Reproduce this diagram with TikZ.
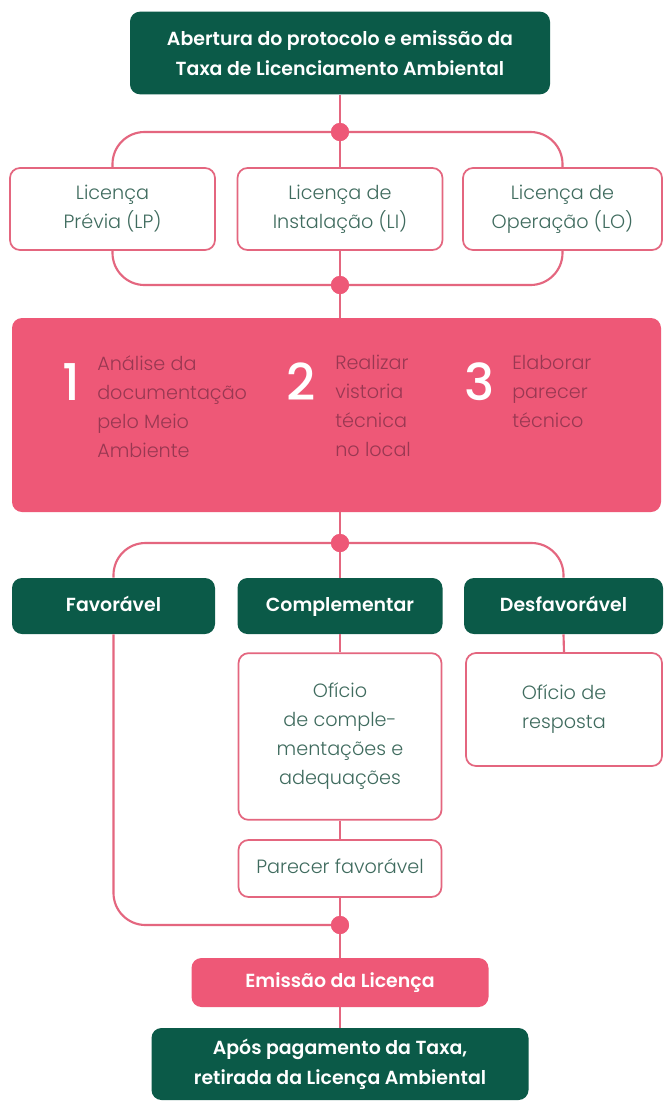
\documentclass[tikz,border=0pt]{standalone}
\usepackage{fontspec}
\setmainfont{Poppins}
\newfontfamily\plight{Poppins Light}
\newfontfamily\psemi{Poppins SemiBold}
\newfontfamily\pmed{Poppins Medium}
\definecolor{dgreen}{HTML}{0B5A48}
\definecolor{rose}{HTML}{EE5877}
\definecolor{lrose}{HTML}{E4667F}
\definecolor{steptxt}{HTML}{993852}
\definecolor{lictxt}{HTML}{3F6B5E}
\begin{document}
\begin{tikzpicture}[x=0.75pt,y=-0.75pt,
  conn/.style={draw=lrose,line width=1.6pt},
  dot/.style={circle,fill=rose,minimum size=13.5pt,inner sep=0pt},
  greenbox/.style={fill=dgreen,rounded corners=7.5pt,text=white,align=center,inner sep=0pt,font=\psemi\fontsize{14.2}{22.5}\selectfont},
  whitebox/.style={draw=lrose,line width=1.3pt,fill=white,rounded corners=7.5pt,text=lictxt,align=center,inner sep=0pt,font=\plight\fontsize{14.4}{21.75}\selectfont},
  rosebox/.style={fill=rose,rounded corners=7.5pt,text=white,align=center,inner sep=0pt,font=\psemi\fontsize{14.2}{21.75}\selectfont},
  oneline/.style={text height=10.5pt,text depth=3pt},
  num/.style={text=white,font=\pmed\fontsize{38}{38}\selectfont,inner sep=0pt},
  steptext/.style={text=steptxt,align=left,anchor=north west,inner sep=0pt,font=\plight\fontsize{14.4}{21.75}\selectfont}
]
\useasboundingbox (0,0) rectangle (664,1108);
\fill[white] (0,0) rectangle (664,1108);
% top
\node[greenbox,minimum width=315pt,minimum height=62pt] (top) at (340,53)
  {Abertura do protocolo e emissão da\\Taxa de Licenciamento Ambiental};
% licences
\node[whitebox,minimum width=153.75pt,minimum height=61.5pt] (lp) at (112.5,209) {Licença\\Prévia (LP)};
\node[whitebox,minimum width=153.75pt,minimum height=61.5pt] (li) at (340,209) {Licença de\\Instalação (LI)};
\node[whitebox,minimum width=149.25pt,minimum height=61.5pt] (lo) at (562.5,209) {Licença de\\Operação (LO)};
\node[dot] (c1) at (340,132) {};
\node[dot] (c2) at (340,285) {};
% big pink box
\node[fill=rose,rounded corners=7.5pt,minimum width=486.75pt,minimum height=145.5pt,inner sep=0pt] (big) at (336.5,415) {};
\node[num] (n1) at (71,382) {1};
\node[steptext] (t1) at (97,355) {Análise da\\documentação\\pelo Meio\\Ambiente};
\node[num] (n2) at (301,382) {2};
\node[steptext] (t2) at (335,355) {Realizar\\vistoria\\técnica\\no local};
\node[num] (n3) at (480,382) {3};
\node[steptext] (t3) at (512,355) {Elaborar\\parecer\\técnico};
\node[dot] (c3) at (340,543) {};
% decisions
\node[greenbox,oneline,minimum width=152.25pt,minimum height=42pt] (fav) at (113.5,606) {Favorável};
\node[greenbox,oneline,minimum width=153.75pt,minimum height=42pt] (comp) at (340,606) {Complementar};
\node[greenbox,oneline,minimum width=149.25pt,minimum height=42pt] (desf) at (563.5,606) {Desfavorável};
\node[whitebox,minimum width=152.25pt,minimum height=125pt] (of) at (340,736.5) {Ofício\\de comple-\\mentações e\\adequações};
\node[whitebox,minimum width=147pt,minimum height=84.75pt] (resp) at (564,709.5) {Ofício de\\resposta};
\node[whitebox,oneline,minimum width=152.25pt,minimum height=42.75pt] (par) at (340,868.5) {Parecer favorável};
\node[dot] (c4) at (340,925) {};
\node[rosebox,oneline,minimum width=222.75pt,minimum height=36.75pt] (em) at (340,982.5) {Emissão da Licença};
\node[greenbox,minimum width=282.75pt,minimum height=54pt] (fin) at (340,1064) {Após pagamento da Taxa,\\retirada da Licença Ambiental};
% connectors
\draw[conn] (top.south) -- (c1.center) -- (li.north);
\draw[conn,rounded corners=24pt] (c1.center) -| (lp.north);
\draw[conn,rounded corners=24pt] (c1.center) -| (lo.north);
\draw[conn] (li.south) -- (c2.center) -- (big.north -| c2);
\draw[conn,rounded corners=24pt] (lp.south) |- (c2.center);
\draw[conn,rounded corners=24pt] (lo.south) |- (c2.center);
\draw[conn] (big.south -| c3) -- (c3.center) -- (comp.north);
\draw[conn,rounded corners=24pt] (c3.center) -| (fav.north);
\draw[conn,rounded corners=24pt] (c3.center) -| (desf.north);
\draw[conn] (comp.south) -- (of.north);
\draw[conn] (desf.south) -- (resp.north);
\draw[conn] (of.south) -- (par.north);
\draw[conn] (par.south) -- (c4.center) -- (em.north);
\draw[conn,rounded corners=24pt] (fav.south) |- (c4.center);
\draw[conn] (em.south) -- (fin.north);
\foreach \c in {c1,c2,c3,c4} \node[dot] at (\c) {};
\end{tikzpicture}
\end{document}
